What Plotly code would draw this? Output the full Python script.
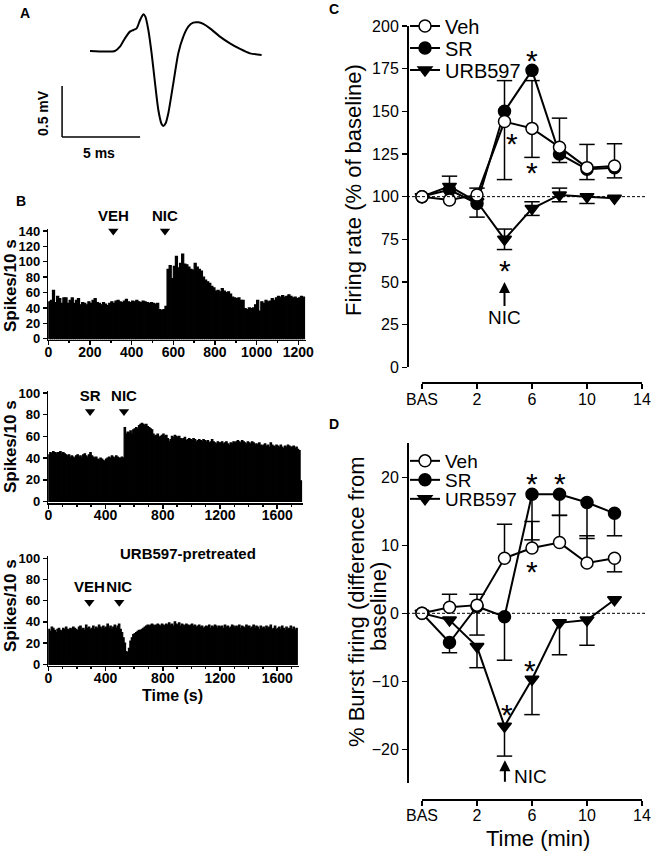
import plotly.graph_objects as go

W, H = 654, 852
FONT = "Liberation Sans, Arial, Helvetica, sans-serif"

# ---------------- Panel A: averaged waveform (ms, mV) ----------------
wave_t = [0, 1.60, 1.92, 2.24, 2.56, 2.78, 2.99, 3.21, 3.42, 3.55, 3.74, 3.95, 4.17, 4.38, 4.59,
          4.70, 4.85, 5.02, 5.34, 5.66, 5.98, 6.30, 6.62, 6.94, 7.26, 7.69, 8.33, 8.97, 9.62, 10.26, 11.0]
wave_v = [0, 0, 0.042, 0.124, 0.19, 0.206, 0.222, 0.304, 0.36, 0.337, 0.206, -0.023, -0.317, -0.578,
          -0.716, -0.735, -0.709, -0.611, -0.317, -0.023, 0.141, 0.239, 0.278, 0.281, 0.265, 0.222,
          0.141, 0.075, 0.02, -0.023, -0.039]
scale_ms = 5
scale_mv = 0.5

# ---------------- Panel B: rate histograms (spikes / 10 s) ----------------
BIN = 10
top_counts = [48, 50, 63, 47, 55, 52,
              46, 53, 53, 46, 50, 53,
              46, 50, 52, 44, 47, 46,
              44, 48, 46, 50, 52, 47,
              46, 44, 47, 45, 43, 46,
              48, 46, 49, 50, 48, 47,
              49, 51, 48, 47, 49, 48,
              50, 48, 47, 49, 48, 47,
              46, 47, 46, 45, 46, 38,
              37, 38, 42, 90, 95, 78,
              94, 107, 92, 98, 110, 97,
              96, 93, 90, 89, 98, 93,
              90, 88, 80, 76, 74, 72,
              68, 66, 62, 63, 61, 65,
              62, 60, 61, 58, 54, 53,
              52, 53, 50, 50, 39, 38,
              40, 39, 40, 44, 50, 36,
              48, 46, 50, 48, 49, 52,
              50, 53, 55, 54, 56, 54,
              55, 57, 55, 53, 54, 52,
              53, 55, 54]
mid_counts = [43, 45, 44, 46, 45, 44, 45, 45, 46, 44,
              45, 44, 43, 42, 43, 41, 42, 41, 40, 42,
              43, 41, 42, 40, 43, 44, 42, 41, 43, 45,
              42, 41, 40, 41, 39, 38, 40, 39, 38, 37,
              39, 40, 41, 40, 42, 41, 40, 42, 41, 40,
              40, 41, 40, 68, 62, 64, 63, 65, 62, 66,
              67, 68, 67, 70, 71, 72, 71, 70, 71, 69,
              68, 67, 66, 62, 60, 61, 62, 59, 60, 61,
              62, 60, 61, 58, 55, 57, 60, 59, 61, 60,
              59, 60, 58, 57, 58, 59, 56, 57, 58, 57,
              56, 58, 57, 55, 56, 57, 56, 55, 57, 56,
              55, 56, 54, 55, 57, 55, 54, 53, 55, 54,
              54, 55, 53, 54, 55, 53, 52, 54, 53, 55,
              54, 55, 56, 55, 54, 56, 55, 54, 53, 55,
              54, 53, 55, 54, 52, 53, 52, 54, 52, 51,
              52, 53, 51, 52, 50, 54, 52, 51, 50, 52,
              51, 50, 52, 50, 49, 51, 50, 52, 51, 50,
              50, 51, 49, 50, 48, 47, 19]
bot_counts = [33, 31, 35, 34, 32, 30, 33, 34, 32, 31,
              34, 33, 35, 33, 32, 34, 33, 35, 34, 33,
              32, 35, 36, 33, 34, 32, 37, 34, 35, 33,
              34, 36, 33, 35, 34, 37, 35, 33, 36, 34,
              35, 38, 34, 36, 33, 35, 37, 34, 36, 38,
              33, 30, 25, 20, 12, 11, 15, 22, 25, 28,
              29, 30, 31, 32, 32, 33, 34, 35, 36, 37,
              36, 37, 38, 37, 36, 37, 38, 37, 36, 38,
              37, 36, 38, 37, 39, 37, 38, 36, 40, 38,
              37, 39, 36, 38, 37, 36, 38, 37, 36, 37,
              38, 36, 37, 35, 36, 37, 35, 36, 34, 35,
              36, 35, 37, 34, 36, 35, 37, 36, 34, 36,
              35, 36, 34, 37, 35, 36, 34, 35, 37, 36,
              34, 36, 35, 37, 34, 36, 35, 34, 37, 35,
              36, 34, 35, 37, 34, 36, 35, 33, 36, 34,
              35, 33, 36, 34, 35, 37, 33, 34, 36, 33,
              34, 35, 33, 36, 34, 32, 35, 33, 34, 36,
              33, 35, 32, 34]
top_events = [312, 560]
top_event_labels = ["VEH", "NIC"]
mid_events = [292, 529]
mid_event_labels = ["SR", "NIC"]
bot_events = [287, 496]
bot_event_labels = ["VEH", "NIC"]

# ---------------- Panels C & D ----------------
time_pts = [-2, 0, 2, 4, 6, 8, 10, 12]          # first point = baseline (BAS)
x_tickvals = [-2, 2, 6, 10, 14]
x_ticktext = ["BAS", "2", "6", "10", "14"]

veh_c = [100, 98, 101, 144, 140, 129, 117, 118]
veh_c_up = [0, 0, 4, 0, 28, 17, 13.6, 13]
veh_c_dn = [0, 0, 0, 34, 17, 0, 0, 0]
sr_c = [100, 104, 96, 150, 174, 125, 116, 117]
sr_c_up = [0, 0, 0, 18, 0, 0, 0, 0]
sr_c_dn = [0, 0, 8, 0, 0, 5, 6, 6]
urb_c = [100, 106, 97, 75, 93, 101, 100, 99]
urb_c_up = [0, 6, 0, 6, 4, 4, 0, 0]
urb_c_dn = [0, 0, 0, 6, 4, 4, 4, 0]

veh_d = [0, 0.9, 1.2, 8.1, 9.6, 10.4, 7.4, 8.1]
veh_d_up = [0, 1.9, 1.6, 5.0, 3.9, 4.0, 4.0, 0]
veh_d_dn = [0, 0, 0, 0, 0, 0, 0, 2.0]
sr_d = [0, -4.3, 1.0, -0.5, 17.5, 17.5, 16.3, 14.7]
sr_d_up = [0, 0, 0, 0, 0, 0, 0, 0]
sr_d_dn = [0, 1.5, 4.2, 6.4, 6.7, 3.1, 5.3, 3.3]
urb_d = [0, -1.0, -4.9, -16.6, -9.7, -1.4, -1.0, 2.0]
urb_d_up = [0, 0, 0, 0, 0, 0, 0, 0]
urb_d_dn = [0, 0, 3.1, 4.4, 5.2, 4.7, 3.7, 0]

stars_c = [(6, 184), (4.54, 135), (6, 118.5), (4, 61)]
stars_d = [(6, 20.1), (8, 20.1), (6, 7.2), (4.15, -13.8), (5.86, -7.4)]


def dx(p0, p1):
    return [p0 / W, p1 / W]


def dy(top, bot):
    return [1 - bot / H, 1 - top / H]


def px(p):
    return p / W


def py(p):
    return 1 - p / H


fig = go.Figure()

# ----- A -----
fig.add_trace(go.Scatter(x=wave_t, y=wave_v, mode="lines",
                         line=dict(color="black", width=2, shape="spline", smoothing=0.6),
                         xaxis="x", yaxis="y", showlegend=False, hoverinfo="skip"))
bar_x0, bar_y0 = -1.79, -0.843
shapes = [
    dict(type="line", xref="x", yref="y", x0=bar_x0, x1=bar_x0 + scale_ms, y0=bar_y0, y1=bar_y0,
         line=dict(color="black", width=1.5)),
    dict(type="line", xref="x", yref="y", x0=bar_x0, x1=bar_x0, y0=bar_y0, y1=bar_y0 + scale_mv,
         line=dict(color="black", width=1.5)),
]


# ----- B -----
def add_hist(vals, xa, ya):
    t = [i * BIN + BIN / 2 for i in range(len(vals))]
    fig.add_trace(go.Bar(x=t, y=vals, width=BIN,
                         marker=dict(color="black", line=dict(width=1.2, color="black")),
                         xaxis=xa, yaxis=ya, showlegend=False, hoverinfo="skip"))


def add_events(times, labels, ylev, xa, ya):
    fig.add_trace(go.Scatter(x=times, y=[ylev] * len(times), mode="markers+text", text=labels,
                             textposition="top center",
                             textfont=dict(family=FONT, size=15, weight="bold", color="black"),
                             marker=dict(symbol="triangle-down", size=9, color="black"),
                             cliponaxis=False, xaxis=xa, yaxis=ya, showlegend=False, hoverinfo="skip"))


add_hist(top_counts, "x2", "y2")
add_events(top_events, top_event_labels, 140, "x2", "y2")
add_hist(mid_counts, "x3", "y3")
add_events(mid_events, mid_event_labels, 83, "x3", "y3")
add_hist(bot_counts, "x4", "y4")
add_events(bot_events, bot_event_labels, 58.5, "x4", "y4")


# ----- C & D -----
def add_err(x, y, up, dn, xa, ya):
    ex, ey, cx, cy = [], [], [], []
    for xi, yi, u, d in zip(x, y, up, dn):
        if u > 0:
            ex += [xi, xi, None]
            ey += [yi, yi + u, None]
            cx.append(xi)
            cy.append(yi + u)
        if d > 0:
            ex += [xi, xi, None]
            ey += [yi, yi - d, None]
            cx.append(xi)
            cy.append(yi - d)
    fig.add_trace(go.Scatter(x=ex, y=ey, mode="lines", line=dict(color="black", width=1.5),
                             xaxis=xa, yaxis=ya, showlegend=False, hoverinfo="skip", cliponaxis=False))
    fig.add_trace(go.Scatter(x=cx, y=cy, mode="markers",
                             marker=dict(symbol="line-ew", size=11, color="black",
                                         line=dict(width=1.5, color="black")),
                             xaxis=xa, yaxis=ya, showlegend=False, hoverinfo="skip", cliponaxis=False))


def add_series(x, y, name, symbol, fill, xa, ya, legend):
    fig.add_trace(go.Scatter(x=x, y=y, mode="lines+markers", name=name,
                             marker=dict(symbol=symbol, size=12, color=fill,
                                         line=dict(color="black", width=1.5)),
                             line=dict(color="black", width=2),
                             xaxis=xa, yaxis=ya, legend=legend, cliponaxis=False, hoverinfo="skip"))


for (yv, up, dn) in [(urb_c, urb_c_up, urb_c_dn), (sr_c, sr_c_up, sr_c_dn), (veh_c, veh_c_up, veh_c_dn)]:
    add_err(time_pts, yv, up, dn, "x5", "y5")
for (yv, up, dn) in [(urb_d, urb_d_up, urb_d_dn), (sr_d, sr_d_up, sr_d_dn), (veh_d, veh_d_up, veh_d_dn)]:
    add_err(time_pts, yv, up, dn, "x6", "y6")

add_series(time_pts, urb_c, "URB597", "triangle-down", "black", "x5", "y5", "legend3")
add_series(time_pts, sr_c, "SR", "circle", "black", "x5", "y5", "legend2")
add_series(time_pts, veh_c, "Veh", "circle", "white", "x5", "y5", "legend")
add_series(time_pts, urb_d, "URB597", "triangle-down", "black", "x6", "y6", "legend6")
add_series(time_pts, sr_d, "SR", "circle", "black", "x6", "y6", "legend5")
add_series(time_pts, veh_d, "Veh", "circle", "white", "x6", "y6", "legend4")

shapes += [
    dict(type="line", xref="paper", yref="y5", x0=px(407), x1=px(645), y0=100, y1=100,
         line=dict(color="black", width=1, dash="3px,2px")),
    dict(type="line", xref="paper", yref="y6", x0=px(407), x1=px(645), y0=0, y1=0,
         line=dict(color="black", width=1, dash="3px,2px")),
]

# ----- annotations -----
ann = []


def txt(x, y, s, size, bold=False, angle=0, xa="center"):
    ann.append(dict(x=px(x), y=py(y), xref="paper", yref="paper", text=s, showarrow=False,
                    textangle=angle, xanchor=xa, yanchor="middle",
                    font=dict(family=FONT, size=size, color="black", weight="bold" if bold else "normal")))


txt(25, 13, "A", 14, True)
txt(21, 201, "B", 14, True)
txt(334, 9, "C", 14, True)
txt(334, 424, "D", 14, True)
txt(43, 113, "0.5 mV", 14, True, -90)
txt(99, 153, "5 ms", 14, True)
txt(10, 286, "Spikes/10 s", 17, True, -90)
txt(10, 447, "Spikes/10 s", 17, True, -90)
txt(10, 606, "Spikes/10 s", 17, True, -90)
txt(188, 553, "URB597-pretreated", 15, True)
txt(172, 695, "Time (s)", 16, True)
txt(353, 190, "Firing rate (% of baseline)", 22, False, -90)
txt(356, 602, "% Burst firing (difference from", 22, False, -90)
txt(378, 607, "baseline)", 22, False, -90)
txt(538, 838, "Time (min)", 22)

for (sx, sy) in stars_c:
    ann.append(dict(x=sx, y=sy, xref="x5", yref="y5", text="*", showarrow=False, yshift=-7,
                    font=dict(family=FONT, size=30, color="black")))
for (sx, sy) in stars_d:
    ann.append(dict(x=sx, y=sy, xref="x6", yref="y6", text="*", showarrow=False, yshift=-7,
                    font=dict(family=FONT, size=30, color="black")))

ann.append(dict(x=4, y=50, xref="x5", yref="y5", text="NIC", showarrow=True, ax=0, ay=36,
                arrowhead=2, arrowsize=1.1, arrowwidth=2, arrowcolor="black", standoff=0,
                font=dict(family=FONT, size=19, color="black")))
ann.append(dict(x=4.03, y=-21.6, xref="x6", yref="y6", text="", showarrow=True,
                ax=4.03, ay=-25, axref="x6", ayref="y6",
                arrowhead=2, arrowsize=1.1, arrowwidth=2, arrowcolor="black", standoff=0))
ann.append(dict(x=5.9, y=-24.0, xref="x6", yref="y6", text="NIC", showarrow=False,
                font=dict(family=FONT, size=19, color="black")))

# ----- axes -----
hist_tick = dict(family=FONT, size=13, color="black", weight="bold")
hist_xtick = dict(family=FONT, size=14, color="black", weight="bold")
common_h = dict(showline=True, linecolor="black", linewidth=1.5, ticks="outside", ticklen=4,
                tickwidth=1.5, tickcolor="black", showgrid=False, zeroline=False, fixedrange=True,
                automargin=False)
cd_tick = dict(family=FONT, size=16, color="black")
common_cd = dict(showline=True, linecolor="black", linewidth=1.5, ticks="outside", ticklen=5,
                 tickwidth=1.5, tickcolor="black", showgrid=False, zeroline=False, tickfont=cd_tick,
                 automargin=False)
hist_minor = dict(dtick=100, ticks="outside", ticklen=2, tickcolor="black")


def leg(yc, size=20):
    return dict(x=px(405), y=py(yc), xanchor="left", yanchor="middle", bgcolor="rgba(0,0,0,0)",
                font=dict(family=FONT, size=size, color="black"), itemwidth=30, borderwidth=0,
                tracegroupgap=0)


fig.update_layout(
    template="none",
    width=W, height=H, margin=dict(l=0, r=0, t=0, b=0, autoexpand=False),
    paper_bgcolor="white", plot_bgcolor="white", showlegend=True,
    font=dict(family=FONT, color="black"),
    xaxis=dict(domain=dx(40, 280), range=[(40 - 90) / 15.6, (280 - 90) / 15.6], visible=False),
    yaxis=dict(domain=dy(10, 160), range=[(51 - 160) / 102, (51 - 10) / 102], visible=False),
    xaxis2=dict(domain=dx(48.3, 305.6), range=[0, 1235], anchor="y2", tickvals=list(range(0, 1201, 200)),
                minor=hist_minor, tickfont=hist_xtick, ticklabelstandoff=-5, **common_h),
    yaxis2=dict(domain=dy(229.4, 339.9), range=[-1.5, 142], anchor="x2", tickvals=list(range(0, 141, 20)),
                tickfont=hist_tick, **common_h),
    xaxis3=dict(domain=dx(48.3, 302.7), range=[0, 1778], anchor="y3", tickvals=list(range(0, 1601, 400)),
                minor=hist_minor, tickfont=hist_xtick, ticklabelstandoff=-5, **common_h),
    yaxis3=dict(domain=dy(390.8, 503.1), range=[-1.5, 102], anchor="x3", tickvals=list(range(0, 101, 20)),
                tickfont=hist_tick, **common_h),
    xaxis4=dict(domain=dx(48.3, 298.7), range=[0, 1750], anchor="y4", tickvals=list(range(0, 1601, 400)),
                minor=hist_minor, tickfont=hist_xtick, ticklabelstandoff=-5, **common_h),
    yaxis4=dict(domain=dy(556.2, 665.9), range=[-1.5, 102], anchor="x4", tickvals=list(range(0, 101, 20)),
                tickfont=hist_tick, **common_h),
    xaxis5=dict(domain=dx(422, 642), range=[-2, 14], anchor="free", position=py(382),
                tickvals=x_tickvals, ticktext=x_ticktext, ticklabelstandoff=-3, **common_cd),
    yaxis5=dict(domain=dy(26, 367.3), range=[0, 200], anchor="free", position=px(407),
                tickvals=list(range(0, 201, 25)), **common_cd),
    xaxis6=dict(domain=dx(422, 642), range=[-2, 14], anchor="free", position=py(799),
                tickvals=x_tickvals, ticktext=x_ticktext, ticklabelstandoff=-4, **common_cd),
    yaxis6=dict(domain=dy(443.3, 783.3), range=[-25, 25], anchor="free", position=px(407),
                tickvals=[-20, -10, 0, 10, 20], **common_cd),
    legend=leg(26), legend2=leg(48), legend3=leg(70),
    legend4=leg(461, 19), legend5=leg(480, 19), legend6=leg(499, 19),
    shapes=shapes, annotations=ann, bargap=0,
)

fig.write_html("out.html", config={"displayModeBar": False, "staticPlot": True},
               post_script="document.body.style.margin='0px';document.body.style.padding='0px';")
